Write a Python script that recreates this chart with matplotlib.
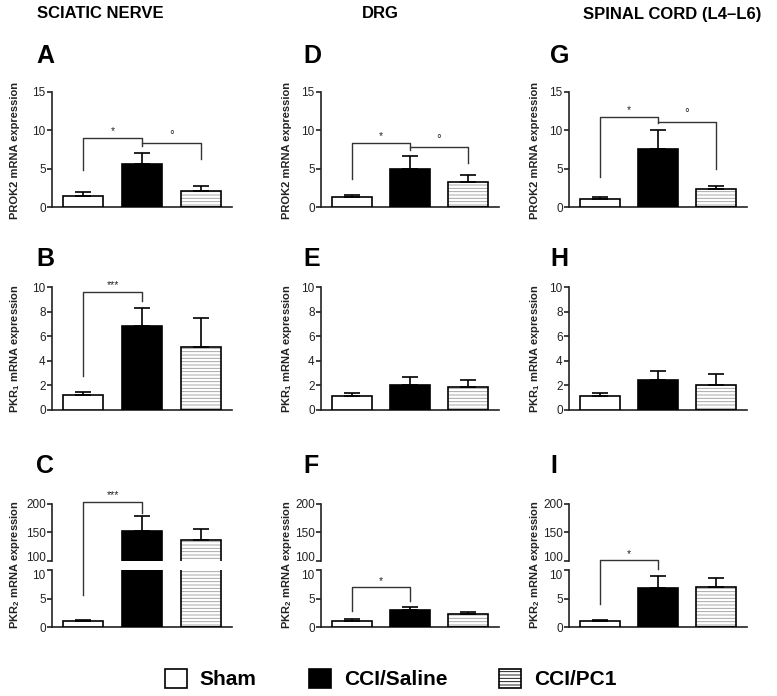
import matplotlib
matplotlib.use('Agg')
import matplotlib.pyplot as plt
from matplotlib.patches import Patch
from matplotlib.lines import Line2D
import numpy as np

# ------------------------------------------------------------------
# - fonts
plt.rcParams['font.family'] = ['Liberation Sans', 'DejaVu Sans']
plt.rcParams['mathtext.fontset'] = 'custom'
plt.rcParams['mathtext.rm'] = 'Liberation Sans'
plt.rcParams['mathtext.bf'] = 'Liberation Sans:bold'
plt.rcParams['hatch.linewidth'] = 0.6

# ------------------------------------------------------------------
# - data (columns: sciatic nerve, DRG, spinal cord)
groups = ['Sham', 'CCI/Saline', 'CCI/PC1']
regions = ['SCIATIC NERVE', 'DRG', 'SPINAL CORD (L4\u2013L6)']
letters = [['A', 'D', 'G'], ['B', 'E', 'H'], ['C', 'F', 'I']]
ylabels = ['PROK2 mRNA expression',
           r'PKR$_{\mathbf{1}}$ mRNA expression',
           r'PKR$_{\mathbf{2}}$ mRNA expression']

prok2_mean = [[1.4, 5.6, 2.1], [1.3, 5.0, 3.3], [1.1, 7.6, 2.4]]
prok2_err = [[0.5, 1.5, 0.6], [0.3, 1.7, 0.9], [0.2, 2.5, 0.4]]
pkr1_mean = [[1.2, 6.8, 5.1], [1.15, 2.0, 1.87], [1.1, 2.45, 2.0]]
pkr1_err = [[0.25, 1.5, 2.35], [0.22, 0.7, 0.55], [0.32, 0.7, 0.95]]
pkr2_mean = [[1.0, 152, 136], [1.0, 2.9, 2.3], [1.0, 6.9, 7.0]]
pkr2_err = [[0.3, 26, 20], [0.35, 0.6, 0.3], [0.2, 2.0, 1.6]]

# significance brackets: (bar_left, bar_right, left_leg, top, right_leg, label)
prok2_sig = [[(0, 1, 4.8, 9.0, 8.3, '*'), (1, 2, 7.9, 8.3, 6.2, '\u00b0')],
             [(0, 1, 3.7, 8.35, 7.8, '*'), (1, 2, 7.4, 7.8, 5.7, '\u00b0')],
             [(0, 1, 3.9, 11.8, 11.1, '*'), (1, 2, 10.9, 11.1, 5.0, '\u00b0')]]
pkr1_sig = [[(0, 1, 2.8, 9.6, 8.9, '***')], [], []]
pkr2_sig = [[(0, 1, 5.6, 204, 185, '***')],
            [(0, 1, 2.8, 7.0, 4.6, '*')],
            [(0, 1, 4.0, 101, 10.2, '*')]]

# ------------------------------------------------------------------
# - figure
W, H = 777, 696
fig = plt.figure(figsize=(W / 100, H / 100), dpi=100)

col_x0 = [52, 321, 569]
col_w = [180, 178, 178]
x = np.arange(3)
bar_w = 0.68


def add_ax(x0, w, ytop, ybot):
    return fig.add_axes([x0 / W, 1 - ybot / H, w / W, (ybot - ytop) / H])


def style(ax, ylim, ticks, bottom=True):
    ax.set_xlim(-0.53, 2.53)
    ax.set_ylim(*ylim)
    ax.set_yticks(ticks)
    ax.set_xticks([])
    for s in ['top', 'right']:
        ax.spines[s].set_visible(False)
    ax.spines['left'].set_linewidth(1.2)
    ax.spines['left'].set_color('#222222')
    ax.spines['bottom'].set_linewidth(1.2)
    ax.spines['bottom'].set_color('#222222')
    ax.spines['bottom'].set_visible(bottom)
    ax.patch.set_alpha(0)
    ax.tick_params(axis='y', direction='out', length=3.5, width=1.2,
                   labelsize=8.5, pad=1, colors='#222222')


def draw_bars(ax, means, errs, base=0.0, hatch_base=None):
    # bars start at 'base' (broken axis: below the visible range)
    means = np.asarray(means, dtype=float)
    if hatch_base is None:
        hatch_base = base
    ax.bar(x[2], max(means[2] - hatch_base, 0), bottom=hatch_base, width=bar_w,
           color='white', edgecolor='#9a9a9a', hatch='-----', lw=0, zorder=2)
    heights = np.clip(means - base, 0, None)
    ax.bar(x, heights, bottom=base, width=bar_w, color=['white', 'black', 'none'],
           edgecolor='black', lw=1.2, zorder=3)
    ax.errorbar(x, means, yerr=[np.zeros(3), errs], fmt='none', ecolor='black',
                elinewidth=1.2, capsize=6, capthick=1.2, zorder=4)


def fig_pt(ax, xv, yv):
    return fig.transFigure.inverted().transform(ax.transData.transform((xv, yv)))


def draw_sig(pick_ax, sig):
    for (xl, xr, yl, yt, yr, lab) in sig:
        p1 = fig_pt(pick_ax(yl), xl, yl)
        p2 = fig_pt(pick_ax(yt), xl, yt)
        p3 = fig_pt(pick_ax(yt), xr, yt)
        p4 = fig_pt(pick_ax(yr), xr, yr)
        fig.add_artist(Line2D([p1[0], p2[0], p3[0], p4[0]],
                              [p1[1], p2[1], p3[1], p4[1]],
                              transform=fig.transFigure, color='#333333', lw=1.0))
        fs = 7.5 if lab != '\u00b0' else 8.5
        fig.text((p2[0] + p3[0]) / 2, p2[1] + 1.5 / H, lab, ha='center',
                 va='bottom', fontsize=fs, color='#222222')


for c in range(3):
    # - row 1: PROK2
    ax = add_ax(col_x0[c], col_w[c], 92, 207)
    style(ax, (0, 15), [0, 5, 10, 15])
    draw_bars(ax, prok2_mean[c], prok2_err[c])
    draw_sig(lambda y, a=ax: a, prok2_sig[c])

    # - row 2: PKR1
    ax = add_ax(col_x0[c], col_w[c], 287, 410)
    style(ax, (0, 10), [0, 2, 4, 6, 8, 10])
    draw_bars(ax, pkr1_mean[c], pkr1_err[c])
    draw_sig(lambda y, a=ax: a, pkr1_sig[c])

    # - row 3: PKR2, broken y axis
    ax_hi = add_ax(col_x0[c], col_w[c], 504, 560.7)
    style(ax_hi, (100, 200), [100, 150, 200], bottom=False)
    draw_bars(ax_hi, pkr2_mean[c], pkr2_err[c], base=95, hatch_base=100.5)
    ax_lo = add_ax(col_x0[c], col_w[c], 570, 627)
    style(ax_lo, (0, 10), [0, 5, 10])
    draw_bars(ax_lo, pkr2_mean[c], pkr2_err[c])
    draw_sig(lambda y, a=ax_hi, b=ax_lo: a if y >= 50 else b, pkr2_sig[c])
    # - keep "100" and "10" apart at the break
    ax_hi.get_yticklabels()[0].set_verticalalignment('baseline')
    ax_lo.get_yticklabels()[-1].set_verticalalignment('top')

# ------------------------------------------------------------------
# - texts
head_x = [100, 380, 672]
for c in range(3):
    fig.text(head_x[c] / W, 1 - 14 / H, regions[c], ha='center', va='center',
             fontsize=12, fontweight='bold')

letter_x = [36, 303, 550]
letter_y = [56, 259, 466]
for r in range(3):
    for c in range(3):
        fig.text(letter_x[c] / W, 1 - letter_y[r] / H, letters[r][c],
                 ha='left', va='center', fontsize=18, fontweight='bold')

label_x = [15, 287, 535]
label_y = [150, 349, 565]
for r in range(3):
    for c in range(3):
        fig.text(label_x[c] / W, 1 - label_y[r] / H, ylabels[r], rotation=90,
                 ha='center', va='center', fontsize=8, fontweight='bold',
                 color='#222222')

# ------------------------------------------------------------------
# - legend
handles = [Patch(facecolor='white', edgecolor='black', lw=1.2),
           Patch(facecolor='black', edgecolor='black', lw=1.2),
           Patch(facecolor='white', edgecolor='black', lw=1.2, hatch='-----')]
leg = fig.legend(handles, groups, loc='center', bbox_to_anchor=(0.503, 1 - 679 / H),
                 ncol=3, frameon=False, handlelength=1.05, handleheight=1.05,
                 handletextpad=0.62, columnspacing=2.5,
                 prop={'size': 15, 'weight': 'bold'})

fig.savefig('out.png', dpi=100)
